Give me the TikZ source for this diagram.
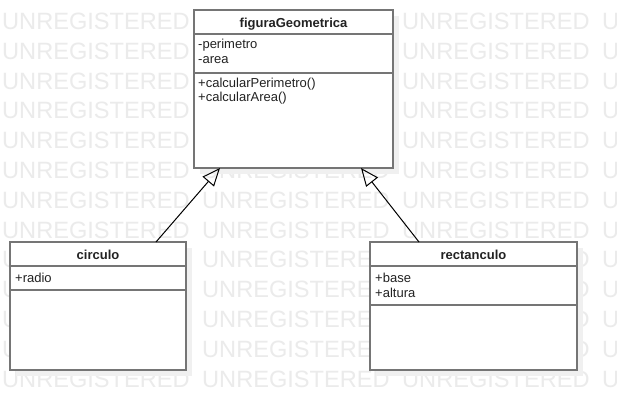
\documentclass[tikz,border=0pt]{standalone}
\usepackage{fontspec}
\setmainfont{Liberation Sans}
\usetikzlibrary{shadows,arrows.meta}
\definecolor{boxline}{HTML}{757575}
\definecolor{wmark}{HTML}{EBEBEB}
\definecolor{txt}{HTML}{222222}
\definecolor{shade}{HTML}{F0F0F0}
\begin{document}
\begin{tikzpicture}[x=1pt,y=-1pt,
  classbox/.style={draw=boxline, line width=2pt, fill=white, inner sep=0pt, outer sep=0pt,
    drop shadow={shadow xshift=6pt, shadow yshift=-6pt, fill=shade, opacity=1}},
  sepline/.style={draw=boxline, line width=2pt},
  title/.style={font=\fontsize{13}{15}\selectfont\bfseries, text=txt, anchor=base, inner sep=0pt},
  member/.style={font=\fontsize{13}{15}\selectfont, text=txt, anchor=base west, inner sep=0pt},
  wm/.style={font=\fontsize{23.6}{24}\selectfont, text=wmark, anchor=base west, inner sep=0pt},
  inherit/.style={draw=black, line width=1pt, -{Triangle[open, length=18pt, width=15pt]}}
]
\useasboundingbox (0,0) rectangle (617,410);
\clip (0,0) rectangle (617,410);
\fill[white] (0,0) rectangle (617,410);
% watermark
\foreach \r in {0,...,12} {
  \foreach \c in {0,...,3} {
    \node[wm] (w\r-\c) at (2+200*\c, 29.5+29.8*\r) {UNREGISTERED};
  }
}
% figuraGeometrica
\node[classbox, minimum width=199pt, minimum height=158pt] (fig) at (293.5,89) {};
\draw[sepline] (fig.west |- 0,34) -- (fig.east |- 0,34);
\draw[sepline] (fig.west |- 0,73) -- (fig.east |- 0,73);
\node[title] (figT) at (293.5,27) {figuraGeometrica};
\node[member] (figA1) at (198,48.5) {-perimetro};
\node[member] (figA2) at (198,63) {-area};
\node[member] (figM1) at (198,87) {+calcularPerimetro()};
\node[member] (figM2) at (198,101.5) {+calcularArea()};
% circulo
\node[classbox, minimum width=176pt, minimum height=128pt] (circ) at (98,306) {};
\draw[sepline] (circ.west |- 0,266) -- (circ.east |- 0,266);
\draw[sepline] (circ.west |- 0,290) -- (circ.east |- 0,290);
\node[title] (circT) at (98,259) {circulo};
\node[member] (circA1) at (15,282.5) {+radio};
% rectanculo
\node[classbox, minimum width=207pt, minimum height=128pt] (rect) at (473.5,306) {};
\draw[sepline] (rect.west |- 0,266) -- (rect.east |- 0,266);
\draw[sepline] (rect.west |- 0,305) -- (rect.east |- 0,305);
\node[title] (rectT) at (473.5,259) {rectanculo};
\node[member] (rectA1) at (375,282.5) {+base};
\node[member] (rectA2) at (375,297) {+altura};
% generalizations
\draw[inherit] ([xshift=58pt]circ.north) -- ([xshift=-73.5pt]fig.south);
\draw[inherit] ([xshift=-54.5pt]rect.north) -- ([xshift=67.5pt]fig.south);
\end{tikzpicture}
\end{document}
